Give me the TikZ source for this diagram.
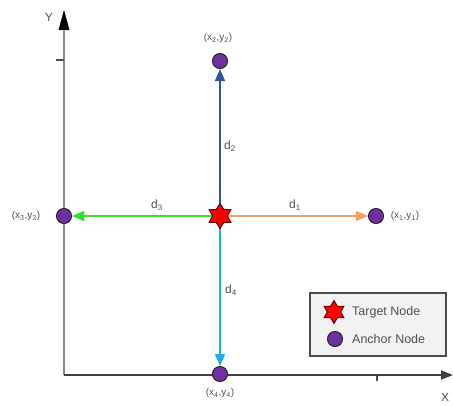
\documentclass[tikz,border=0pt]{standalone}
\usepackage{fontspec}
\setmainfont{Liberation Sans}
\usetikzlibrary{shapes.geometric,arrows.meta}
\definecolor{anchorfill}{HTML}{7030A0}
\definecolor{txtgray}{HTML}{505050}
\definecolor{upblue}{HTML}{2F5597}
\definecolor{rightorange}{HTML}{F0A060}
\definecolor{leftgreen}{HTML}{33DD33}
\definecolor{downblue}{HTML}{1AAFE8}
\tikzset{
  anchornode/.style={circle,fill=anchorfill,draw=black!85,line width=1pt,minimum size=15pt,inner sep=0pt},
  targetnode/.style={star,star points=6,star point ratio=1.7,fill=red,draw=black!70!red,line width=0.8pt,minimum size=25pt,inner sep=0pt},
  coordlabel/.style={text=txtgray,font=\fontsize{10}{11}\selectfont,inner sep=1pt},
  distlabel/.style={text=txtgray,font=\fontsize{12}{13}\selectfont,inner sep=1pt},
  legendtext/.style={text=txtgray,font=\fontsize{12.5}{14}\selectfont,anchor=west,inner sep=0pt},
  tip/.style={-{Triangle[length=12pt,width=9pt]}},
  linkarrow/.style={line width=1.5pt,-{Triangle[length=12pt,width=10pt]}},
}
\begin{document}
\begin{tikzpicture}[x=1pt,y=-1pt]
\useasboundingbox (0,0) rectangle (453,405);

% axes
\coordinate (o) at (64,375);
\coordinate (xend) at (453,375);
\draw[line width=2.5pt,black!45] (o) -- (64,26);
\fill[black] (64,10) -- (58.5,30) -- (69.5,30) -- cycle;
\draw[line width=1.8pt,black!75,tip] (o) -- (xend);
\draw[line width=1.2pt,black!70] (56,60) -- (64,60);
\draw[line width=1.2pt,black!70] (377,375) -- (377,381);
\node[distlabel] (ylab) at (49,17) {Y};
\node[distlabel] (xlab) at (445,397) {X};

% nodes
\node[targetnode] (t) at (220,216) {};
\node[anchornode] (a1) at (376,216) {};
\node[anchornode] (a2) at (220,61) {};
\node[anchornode] (a3) at (64,216) {};
\node[anchornode] (a4) at (220,374) {};

% connectors from the target node
\draw[linkarrow,upblue] (t) -- (a2);
\draw[linkarrow,rightorange] (t) -- (a1);
\draw[linkarrow,leftgreen] (t) -- (a3);
\draw[linkarrow,downblue] (t) -- (a4);
\node[targetnode] (t2) at (220,216) {};

% labels
\node[coordlabel] (l2) at (218,38) {(x\textsubscript{2},y\textsubscript{2})};
\node[coordlabel] (l1) at (405,216) {(x\textsubscript{1},y\textsubscript{1})};
\node[coordlabel] (l3) at (26,216) {(x\textsubscript{3},y\textsubscript{3})};
\node[coordlabel] (l4) at (220,393) {(x\textsubscript{4},y\textsubscript{4})};
\node[distlabel] (d2) at (230,146) {d\textsubscript{2}};
\node[distlabel] (d1) at (295,205) {d\textsubscript{1}};
\node[distlabel] (d3) at (157,205) {d\textsubscript{3}};
\node[distlabel] (d4) at (231,290) {d\textsubscript{4}};

% legend
\draw[fill=black!5,draw=black!70,line width=1.2pt] (310,293) rectangle (446,356);
\node[targetnode,minimum size=23pt] (lt) at (334,312) {};
\node[anchornode] (la) at (335,339) {};
\node[legendtext] (ltt) at (352,312) {Target Node};
\node[legendtext] (lat) at (352,339) {Anchor Node};
\end{tikzpicture}
\end{document}
